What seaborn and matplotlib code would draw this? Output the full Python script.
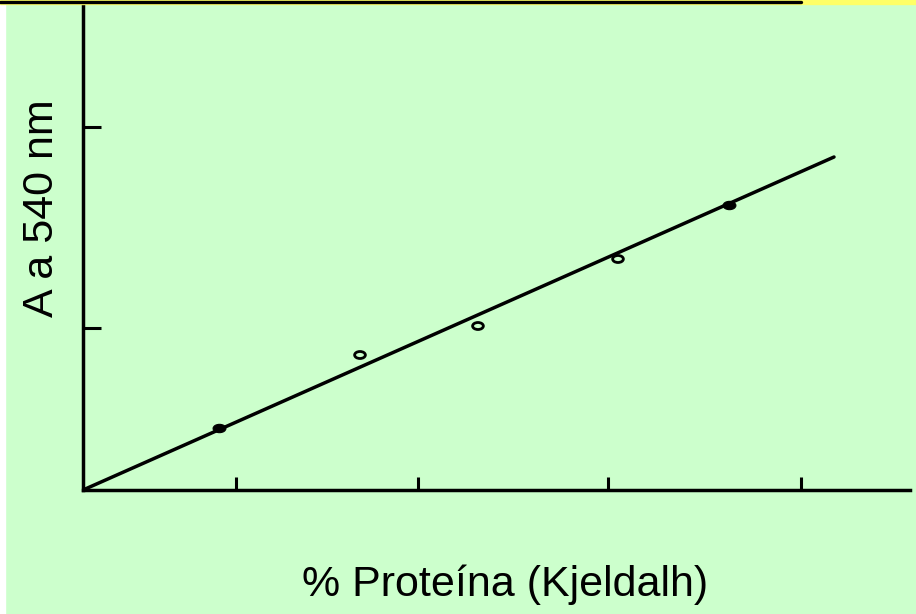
import matplotlib
matplotlib.use("Agg")
import matplotlib.pyplot as plt
import matplotlib.patches as mpatches
from matplotlib.lines import Line2D
from matplotlib.path import Path
from matplotlib.transforms import Affine2D
import seaborn as sns
import pandas as pd

# data (arbitrary units, no tick labels on the original)
protein_filled = [0.716, 3.40]
absorb_filled = [0.31, 1.425]
protein_open = [1.458, 2.079, 2.816]
absorb_open = [0.675, 0.82, 1.155]
line_x = [0.0, 3.953]
line_y = [0.0, 1.665]
x_ticks = [0.805, 1.763, 2.763, 3.779]
y_ticks = [0.81, 1.815]
x_max = 4.353
y_max = 2.43

green = '#CCFFCC'
yellow = '#FFFF66'

sns.set_style('white')
plt.rcParams['font.family'] = ['Liberation Sans', 'DejaVu Sans']

fig = plt.figure(figsize=(9.16, 6.14), dpi=100, facecolor=green)
# slide frame bits
fig.patches.append(mpatches.Rectangle((0, 0), 5 / 916, 1, transform=fig.transFigure, color='white', zorder=0))
fig.patches.append(mpatches.Rectangle((0, 1 - 4 / 614), 1, 4 / 614, transform=fig.transFigure, color=yellow, zorder=0))
fig.lines.append(Line2D([0, 801 / 916], [1 - 1.5 / 614, 1 - 1.5 / 614], transform=fig.transFigure, color='black', lw=2.4))

ax = fig.add_axes([83 / 916, 124 / 614, 827 / 916, 486 / 614])
ax.set_facecolor('none')

ellipse = Path.unit_circle().transformed(Affine2D().scale(1, 0.65))

df_line = pd.DataFrame({'x': line_x, 'y': line_y})
sns.lineplot(data=df_line, x='x', y='y', ax=ax, color='black', lw=2.5)

df_f = pd.DataFrame({'x': protein_filled, 'y': absorb_filled})
sns.scatterplot(data=df_f, x='x', y='y', ax=ax, marker=ellipse, s=85,
                color='black', edgecolor='black', linewidth=0.8, zorder=3)
df_o = pd.DataFrame({'x': protein_open, 'y': absorb_open})
sns.scatterplot(data=df_o, x='x', y='y', ax=ax, marker=ellipse, s=60,
                facecolor='none', edgecolor='black', linewidth=2.0, zorder=3)

ax.set_xlim(0, x_max)
ax.set_ylim(0, y_max)
ax.set_xticks(x_ticks)
ax.set_yticks(y_ticks)
ax.tick_params(axis='x', bottom=True, direction='in', length=9.5, width=2.2,
               color='black', labelbottom=False)
ax.tick_params(axis='y', left=True, direction='in', length=13, width=2.2,
               color='black', labelleft=False)
for s in ['top', 'right']:
    ax.spines[s].set_visible(False)
for s in ['left', 'bottom']:
    ax.spines[s].set_linewidth(2.5)
    ax.spines[s].set_color('black')

ax.set_xlabel('')
ax.set_ylabel('')
fig.text(505 / 916, 1 - 585 / 614, '% Proteína (Kjeldalh)', ha='center', va='center',
         fontsize=31, color='black')
fig.text(42 / 916, 1 - 208 / 614, 'A a 540 nm', ha='center', va='center', rotation=90,
         fontsize=31, color='black')

fig.savefig('out.png', dpi=100, facecolor=green)
